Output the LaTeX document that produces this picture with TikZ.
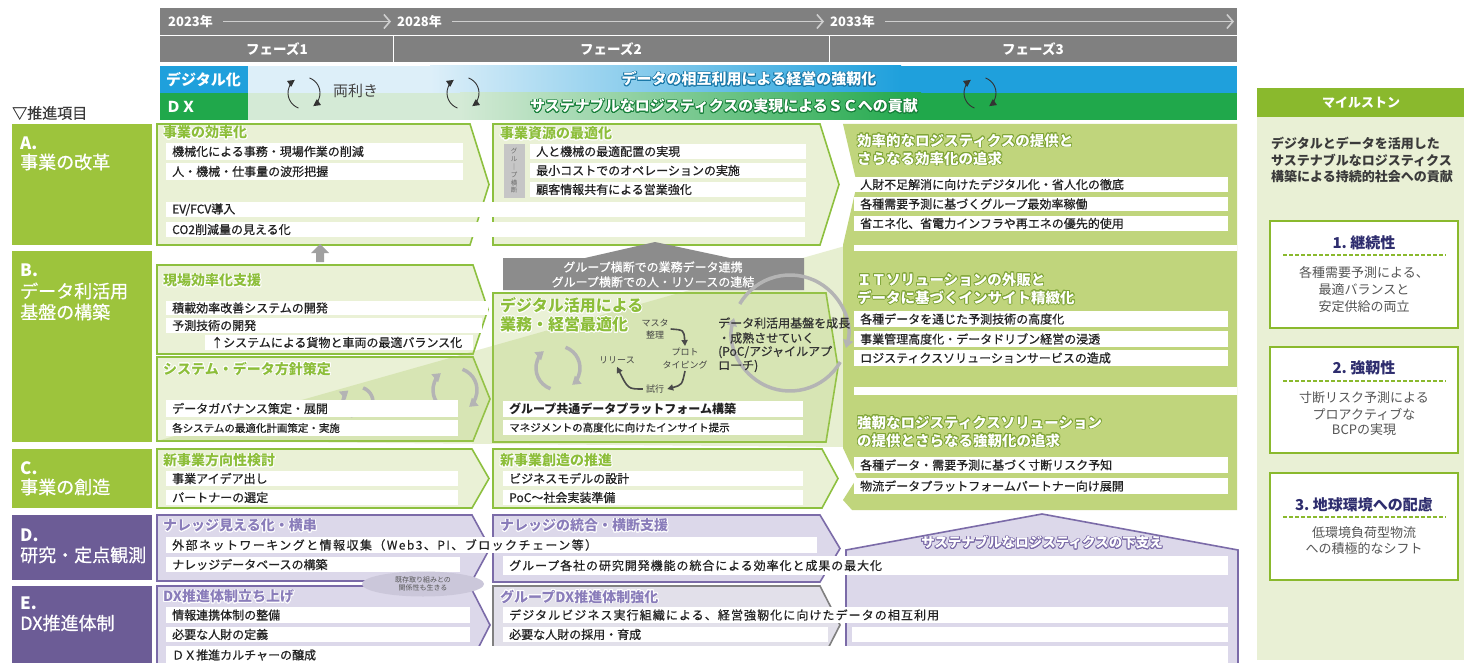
\documentclass[tikz,border=0pt]{standalone}
\usepackage{fontspec}
\setmainfont{Noto Sans CJK JP}
\newfontfamily\jpmed{Noto Sans CJK JP}[FakeBold=0.6]
\usepackage[copies]{contour}
\contourlength{0.8pt}
\contournumber{16}
\usetikzlibrary{arrows.meta,shapes.geometric}
\definecolor{hdr}{HTML}{808080}
\definecolor{yrline}{HTML}{CFCFCF}
\definecolor{dblue}{HTML}{1FA0DC}
\definecolor{lblue}{HTML}{DDEFF9}
\definecolor{oblue}{HTML}{1A78A8}
\definecolor{dgreen}{HTML}{20A84B}
\definecolor{lgreen}{HTML}{D4EAD6}
\definecolor{ogreen}{HTML}{17803A}
\definecolor{colA}{HTML}{9DC43C}
\definecolor{colD}{HTML}{6C5C96}
\definecolor{boxfill}{HTML}{EAF1D6}
\definecolor{boxline}{HTML}{8DC03F}
\definecolor{titlegreen}{HTML}{8DBE3A}
\definecolor{p3green}{HTML}{C0D57C}
\definecolor{p3line}{HTML}{7FA536}
\definecolor{pfill}{HTML}{DCD8EA}
\definecolor{pline}{HTML}{7B6BA8}
\definecolor{ptitle}{HTML}{8A7DBA}
\definecolor{efill}{HTML}{E2E0EA}
\definecolor{eline}{HTML}{808080}
\definecolor{txt}{HTML}{222222}
\definecolor{cyc}{HTML}{B4B4B4}
\definecolor{icon}{HTML}{333333}
\definecolor{darkarr}{HTML}{4A4A4A}
\definecolor{cyctxt}{HTML}{444444}
\definecolor{msgreen}{HTML}{8AB92D}
\definecolor{mspanel}{HTML}{E9F0D5}
\definecolor{msnavy}{HTML}{2E2D6E}
\definecolor{msgray}{HTML}{555555}
\definecolor{blkarrow}{HTML}{8C8C8C}
\definecolor{uparrow}{HTML}{A0A0A0}
\definecolor{ellfill}{HTML}{CBC7DA}
\definecolor{fan}{HTML}{A9C85C}
\definecolor{vgray}{HTML}{C6C6C6}
\definecolor{vtext}{HTML}{6A6A6A}
\definecolor{labeltxt}{HTML}{3A3A3A}

\newcommand{\wbar}[7][]{%
  \fill[white] (#3,#4) rectangle (#5,#6);
  \node[bartext,#1] (#2) at ({#3+6},{(#4+#6)/2}) {#7};}
\newcommand{\parrow}[6]{%
  \draw[#1] (#2,#3) -- ({#4-#6},#3) -- (#4,{(#3+#5)/2}) -- ({#4-#6},#5) -- (#2,#5) -- cycle;}
\newcommand{\cwarc}[6][]{%
  \draw[#1] (#2,#3) ++(#5:#4) arc[start angle=#5, end angle=#6, radius=#4];}

\begin{document}
\begin{tikzpicture}[x=1pt,y=-1pt,
  bartext/.style={anchor=west,inner sep=0pt,text=txt,font=\jpmed\fontsize{12}{14}\selectfont},
  smtext/.style={font=\jpmed\fontsize{10.5}{12}\selectfont},
  gtitle/.style={anchor=west,inner sep=0pt,text=titlegreen,font=\bfseries\fontsize{14}{17}\selectfont},
  ptitlest/.style={anchor=west,inner sep=0pt,text=ptitle,font=\bfseries\fontsize{14}{17}\selectfont},
  p3title/.style={anchor=west,inner sep=0pt,text=white,font=\bfseries\fontsize{14.5}{18}\selectfont},
  yr/.style={anchor=west,inner sep=0pt,text=white,font=\bfseries\fontsize{13}{15}\selectfont},
  yrarrow/.style={draw=yrline,line width=1.8pt,-{Straight Barb[length=6pt,width=14pt,line width=1.6pt]}},
  phl/.style={inner sep=0pt,text=white,font=\bfseries\fontsize{13.5}{15}\selectfont},
  dxl/.style={anchor=west,inner sep=0pt,text=white,font=\bfseries\fontsize{15}{17}\selectfont},
  bandtxt/.style={inner sep=0pt,text=white,font=\bfseries\fontsize{15}{17}\selectfont},
  lblL/.style={anchor=west,inner sep=0pt,text=white,font=\bfseries\fontsize{17}{20}\selectfont},
  lblT/.style={anchor=west,inner sep=0pt,text=white,font=\jpmed\fontsize{18}{21}\selectfont},
  greenbox/.style={draw=boxline,line width=1.6pt,fill=boxfill},
  purplebox/.style={draw=pline,line width=1.6pt,fill=pfill},
  graybox/.style={draw=eline,line width=1.6pt,fill=efill},
  cycarrow/.style={draw=cyc,line width=3.5pt,-{Triangle[length=8pt,width=10pt]}},
  iconarrow/.style={draw=icon,line width=0.9pt,-{Triangle[length=7pt,width=7pt]}},
  darkcyc/.style={draw=darkarr,line width=1.6pt,-{Triangle[length=6pt,width=6pt]}},
  cyclbl/.style={inner sep=0pt,text=cyctxt,font=\fontsize{9}{12.5}\selectfont,align=center},
  dtxt/.style={anchor=west,inner sep=0pt,text=icon,font=\jpmed\fontsize{12}{14}\selectfont},
  mstitle/.style={inner sep=0pt,text=msnavy,font=\bfseries\fontsize{15}{17}\selectfont},
  msbody/.style={inner sep=0pt,text=msgray,font=\fontsize{13}{15}\selectfont},
  msintro/.style={anchor=west,inner sep=0pt,text=labeltxt,font=\bfseries\fontsize{13}{15}\selectfont},
  msbox/.style={draw=msgreen,line width=2pt,fill=white},
  msdash/.style={draw=msgreen,line width=1.2pt,dash pattern=on 4pt off 2pt},
]
\useasboundingbox (0,0) rectangle (1464,663);
\fill[white] (0,0) rectangle (1464,663);

% ---------- header ----------
\fill[hdr] (160,8) rectangle (1237,62);
\draw[white,line width=1.2pt] (160,35.5) -- (1237,35.5);
\draw[white,line width=1.2pt] (393.5,35.5) -- (393.5,62);
\draw[white,line width=1.2pt] (829.5,35.5) -- (829.5,62);
\node[yr] (y1) at (168,21.5) {2023年};
\node[yr] (y2) at (397,21.5) {2028年};
\node[yr] (y3) at (830,21.5) {2033年};
\coordinate (yend) at (1234,21.5);
\draw[yrarrow] ([xshift=10pt]y1.east) -- ([xshift=-6pt]y2.west);
\draw[yrarrow] ([xshift=10pt]y2.east) -- ([xshift=-6pt]y3.west);
\draw[yrarrow] ([xshift=10pt]y3.east) -- (yend);
\node[phl] (f1) at (277,49) {フェーズ1};
\node[phl] (f2) at (611,49) {フェーズ2};
\node[phl] (f3) at (1033,49) {フェーズ3};

% ---------- bands ----------
\fill[dblue] (160,66) rectangle (248,93);
\fill[dgreen] (160,93) rectangle (248,120);
\fill[lblue] (248,66) rectangle (431,93);
\shade[left color=lblue,right color=dblue] (430,66) rectangle (901,93);
\fill[dblue] (900,66) rectangle (1237,93);
\fill[lgreen] (248,93) rectangle (461,120);
\shade[left color=lgreen,right color=dgreen] (460,93) rectangle (921,120);
\fill[dgreen] (920,93) rectangle (1237,120);
\node[dxl] (dig) at (166,79.5) {デジタル化};
\node[dxl] (dx) at (166,106.5) {ＤＸ};
\node[bandtxt] (bt1) at (749,79.5) {\contour{oblue}{データの相互利用による経営の強靭化}};
\node[bandtxt] (bt2) at (724,106.5) {\contour{ogreen}{サステナブルなロジスティクスの実現によるＳＣへの貢献}};
\node[inner sep=0pt,text=cyctxt,font=\fontsize{15}{17}\selectfont,anchor=west] (ryo) at (333,91) {両利き};
\cwarc[iconarrow]{304}{93}{16}{-70}{55}
\cwarc[iconarrow]{304}{93}{16}{110}{235}
\cwarc[iconarrow]{463}{93}{16}{-70}{55}
\cwarc[iconarrow]{463}{93}{16}{110}{235}
\cwarc[iconarrow]{980}{93}{16}{-70}{55}
\cwarc[iconarrow]{980}{93}{16}{110}{235}

\node[anchor=west,inner sep=0pt,text=labeltxt,font=\jpmed\fontsize{15}{17}\selectfont] (suishin) at (12,113) {▽推進項目};

% ---------- left labels ----------
\fill[colA] (12,124) rectangle (152,245);
\node[lblL] (la1) at (20,143) {A.};
\node[lblT] (la2) at (20,162) {事業の改革};
\fill[colA] (12,251) rectangle (152,442);
\node[lblL] (lb1) at (20,270) {B.};
\node[lblT] (lb2) at (20,291) {データ利活用};
\node[lblT] (lb3) at (20,312) {基盤の構築};
\fill[colA] (12,449) rectangle (152,508);
\node[lblL] (lc1) at (20,468) {C.};
\node[lblT] (lc2) at (20,487) {事業の創造};
\fill[colD] (12,515) rectangle (152,580);
\node[lblL] (ld1) at (20,535) {D.};
\node[lblT] (ld2) at (20,555) {研究・定点観測};
\fill[colD] (12,586) rectangle (152,663);
\node[lblL] (le1) at (20,603) {E.};
\node[lblT] (le2) at (20,623) {DX推進体制};

% ---------- phase boxes ----------
\parrow{greenbox}{157}{124}{489}{245}{19}
\parrow{greenbox}{493}{124}{839}{245}{19}
\parrow{greenbox}{157}{265}{488}{354}{15}
\parrow{greenbox}{157}{357}{490}{441}{17}
\parrow{greenbox}{493}{293}{838}{442}{12}
\parrow{greenbox}{157}{449}{489}{508}{17}
\parrow{greenbox}{493}{449}{838}{508}{16}
\parrow{purplebox}{157}{515}{490}{581}{18}
\parrow{purplebox}{493}{515}{840}{582}{20}
\parrow{purplebox}{157}{586}{490}{664}{20}
\parrow{graybox}{493}{586}{840}{664}{20}

% fan
\fill[fan,opacity=0.28] (157,441) -- (845,246) -- (845,447) -- cycle;

% phase 3 area
\fill[p3green] (843,124) -- (1237,124) -- (1237,510) -- (852,510) -- (843,500) -- (857,478) -- (843,448) -- (843,245) -- (857,184) -- cycle;
\fill[white] (854,245) rectangle (1237,251);
\fill[white] (854,387) rectangle (1237,395);

% house
\draw[fill=pfill,draw=pline,line width=1.6pt] (846,666) -- (846,550) -- (1042,514) -- (1238,550) -- (1238,666);
\node[inner sep=0pt,text=white,font=\bfseries\fontsize{13.5}{16}\selectfont] (house) at (1042,543) {\contour{pline}{サステナブルなロジスティクスの下支え}};

% gray up arrows
\fill[uparrow] (316,262) -- (316,253) -- (311,253) -- (320,244) -- (329,253) -- (324,253) -- (324,262) -- cycle;
\fill[blkarrow] (503,290) -- (503,258) -- (585,258) -- (655,242) -- (730,258) -- (804,258) -- (804,290) -- cycle;
\node[inner sep=0pt,text=white,font=\jpmed\fontsize{12}{14}\selectfont] (gl1) at (653,267) {グループ横断での業務データ連携};
\node[inner sep=0pt,text=white,font=\jpmed\fontsize{12}{14}\selectfont] (gl2) at (653,282) {グループ横断での人・リソースの連結};

% gray cycles
\cwarc[cycarrow]{358}{402}{15}{-70}{50}
\cwarc[cycarrow]{358}{402}{15}{110}{230}
\cwarc[cycarrow]{455}{390}{22}{-70}{50}
\cwarc[cycarrow]{455}{390}{22}{110}{230}
\cwarc[cycarrow]{558}{368}{22}{-70}{50}
\cwarc[cycarrow]{558}{368}{22}{110}{230}
\cwarc[cycarrow]{790}{333}{58}{-150}{15}
\cwarc[cycarrow]{790}{333}{58}{30}{195}

% ---------- titles ----------
\node[gtitle] (ta1) at (163,133) {\contour{white}{事業の効率化}};
\node[gtitle] (ta2) at (500,134) {\contour{white}{事業資源の最適化}};
\node[p3title] (ta3a) at (857,141) {\contour{p3line}{効率的なロジスティクスの提供と}};
\node[p3title] (ta3b) at (857,159) {\contour{p3line}{さらなる効率化の追求}};
\node[gtitle] (tb1) at (163,281) {\contour{white}{現場効率化支援}};
\node[gtitle] (tb2) at (163,369) {\contour{white}{システム・データ方針策定}};
\node[gtitle,font=\bfseries\fontsize{16}{18}\selectfont] (tb3a) at (500,306) {\contour{white}{デジタル活用による}};
\node[gtitle,font=\bfseries\fontsize{16}{18}\selectfont] (tb3b) at (500,325) {\contour{white}{業務・経営最適化}};
\node[p3title] (tb4a) at (857,280) {\contour{p3line}{ＩＴソリューションの外販と}};
\node[p3title] (tb4b) at (857,298) {\contour{p3line}{データに基づくインサイト精緻化}};
\node[gtitle] (tc1) at (163,461) {\contour{white}{新事業方向性検討}};
\node[gtitle] (tc2) at (500,461) {\contour{white}{新事業創造の推進}};
\node[p3title] (tc3a) at (857,423) {\contour{p3line}{強靭なロジスティクスソリューション}};
\node[p3title] (tc3b) at (857,441) {\contour{p3line}{の提供とさらなる強靭化の追求}};
\node[ptitlest] (td1) at (163,526) {\contour{white}{ナレッジ見える化・横串}};
\node[ptitlest] (td2) at (500,526) {\contour{white}{ナレッジの統合・横断支援}};
\node[ptitlest] (te1) at (163,597) {\contour{white}{DX推進体制立ち上げ}};
\node[ptitlest] (te2) at (500,597) {\contour{white}{グループDX推進体制強化}};

% ---------- bars ----------
\wbar{ba11}{166}{143}{463}{160}{機械化による事務・現場作業の削減}
\wbar{ba12}{166}{163}{463}{180}{人・機械・仕事量の波形把握}
\wbar{ba13}{166}{202}{805}{217}{EV/FCV導入}
\wbar{ba14}{166}{222}{805}{237}{CO2削減量の見える化}
\node[fill=vgray,minimum width=21pt,minimum height=54pt,inner sep=0pt,align=center,text=vtext,font=\fontsize{6.5}{7.8}\selectfont] (vlab) at (514,171) {グ\\ル\\｜\\プ\\横\\断};
\wbar{ba21}{530}{144}{806}{159}{人と機械の最適配置の実現}
\wbar{ba22}{530}{163}{806}{178}{最小コストでのオペレーションの実施}
\wbar{ba23}{530}{182}{806}{197}{顧客情報共有による営業強化}
\wbar{ba31}{854}{177}{1228}{192}{人財不足解消に向けたデジタル化・省人化の徹底}
\wbar{ba32}{854}{197}{1228}{211}{各種需要予測に基づくグループ最効率稼働}
\wbar{ba33}{854}{216}{1228}{231}{省エネ化、省電力インフラや再エネの優先的使用}

\wbar{bb11}{166}{301}{488}{315}{積載効率改善システムの開発}
\wbar{bb12}{166}{318}{482}{333}{予測技術の開発}
\wbar{bb13}{205}{335}{473}{350}{↑システムによる貨物と車両の最適バランス化}
\wbar{bb21}{166}{400}{458}{417}{データガバナンス策定・展開}
\wbar[smtext]{bb22}{166}{420}{458}{436}{各システムの最適化計画策定・実施}
\wbar[font=\bfseries\fontsize{12}{14}\selectfont]{bb31}{503}{401}{803}{417}{グループ共通データプラットフォーム構築}
\wbar[smtext]{bb32}{503}{420}{803}{435}{マネジメントの高度化に向けたインサイト提示}
\wbar{bb41}{854}{311}{1228}{327}{各種データを通じた予測技術の高度化}
\wbar{bb42}{854}{331}{1228}{347}{事業管理高度化・データドリブン経営の浸透}
\wbar{bb43}{854}{350}{1228}{366}{ロジスティクスソリューションサービスの造成}

\wbar{bc11}{166}{471}{458}{486}{事業アイデア出し}
\wbar{bc12}{166}{490}{458}{505}{パートナーの選定}
\wbar{bc21}{503}{471}{803}{486}{ビジネスモデルの設計}
\wbar{bc22}{503}{490}{803}{505}{PoC～社会実装準備}
\wbar{bc31}{854}{457}{1228}{473}{各種データ・需要予測に基づく寸断リスク予知}
\wbar{bc32}{854}{478}{1228}{494}{物流データプラットフォームパートナー向け展開}

\wbar[font=\jpmed\fontsize{12}{14}\selectfont\addfontfeatures{LetterSpace=12}]{bd11}{166}{537}{817}{553}{外部ネットワーキングと情報収集（Web3、PI、ブロックチェーン等）}
\wbar{bd12}{166}{557}{460}{572}{ナレッジデータベースの構築}
\wbar[font=\jpmed\fontsize{12}{14}\selectfont\addfontfeatures{LetterSpace=7.7}]{bd21}{503}{556}{1228}{575}{グループ各社の研究開発機能の統合による効率化と成果の最大化}

\wbar{be11}{166}{607}{470}{623}{情報連携体制の整備}
\wbar{be12}{166}{627}{470}{642}{必要な人財の定義}
\wbar{be13}{166}{646}{1228}{664}{ＤＸ推進カルチャーの醸成}
\wbar[font=\jpmed\fontsize{12}{14}\selectfont\addfontfeatures{LetterSpace=9}]{be21}{503}{607}{1228}{623}{デジタルビジネス実行組織による、経営強靭化に向けたデータの相互利用}
\wbar{be22}{503}{627}{828}{642}{必要な人財の採用・育成}
\fill[white] (852,627) rectangle (1228,642);

% ellipse
\node[ellipse,fill=ellfill,minimum width=122pt,minimum height=25pt,inner sep=0pt,align=center,text=msgray,font=\fontsize{7}{8.5}\selectfont] (ell) at (423,584) {既存取り組みとの\\関係性も生きる};

% ---------- cycle in B2 ----------
\node[cyclbl] (cm) at (655,329) {マスタ\\整理};
\node[cyclbl] (cp) at (685,358.5) {プロト\\タイピング};
\node[cyclbl] (cr) at (617,360) {リリース};
\node[cyclbl] (ct) at (655,389) {試行};
\draw[darkcyc] ([xshift=2pt]cm.east) .. controls (684,330) .. ([yshift=2pt]cp.north);
\draw[darkcyc] ([yshift=-2pt]cp.south) .. controls (682,385) .. ([xshift=3pt]ct.east);
\draw[darkcyc] ([xshift=-3pt]ct.west) .. controls (628,389) .. ([yshift=-3pt]cr.south);
\node[dtxt] (dt1) at (718,323) {データ利活用基盤を成長};
\node[dtxt] (dt2) at (718,338) {・成熟させていく};
\node[dtxt] (dt3) at (718,352) {(PoC/アジャイルアプ};
\node[dtxt] (dt4) at (718,366) {ローチ)};

% ---------- milestones ----------
\fill[msgreen] (1257,88) rectangle (1464,117);
\node[inner sep=0pt,text=white,font=\bfseries\fontsize{13}{15}\selectfont] (msh) at (1361,102.5) {マイルストン};
\fill[mspanel] (1257,117) rectangle (1464,660);
\node[msintro] (mi1) at (1271,143) {デジタルとデータを活用した};
\node[msintro] (mi2) at (1271,160) {サステナブルなロジスティクス};
\node[msintro] (mi3) at (1271,177) {構築による持続的社会への貢献};

\draw[msbox] (1270,221) rectangle (1458,328);
\node[mstitle] (m1t) at (1364,243) {1.\ 継続性};
\draw[msdash] (1283,255) -- (1446,255);
\node[msbody] (m1a) at (1364,273) {各種需要予測による、};
\node[msbody] (m1b) at (1364,290) {最適バランスと};
\node[msbody] (m1c) at (1364,307) {安定供給の両立};

\draw[msbox] (1270,347) rectangle (1458,453);
\node[mstitle] (m2t) at (1364,368) {2.\ 強靭性};
\draw[msdash] (1283,381) -- (1446,381);
\node[msbody] (m2a) at (1364,398) {寸断リスク予測による};
\node[msbody] (m2b) at (1364,414) {プロアクティブな};
\node[msbody] (m2c) at (1364,430) {BCPの実現};

\draw[msbox] (1270,473) rectangle (1458,580);
\node[mstitle] (m3t) at (1364,505) {3.\ 地球環境への配慮};
\draw[msdash] (1283,517) -- (1446,517);
\node[msbody] (m3a) at (1364,533) {低環境負荷型物流};
\node[msbody] (m3b) at (1364,549) {への積極的なシフト};
\end{tikzpicture}
\end{document}
